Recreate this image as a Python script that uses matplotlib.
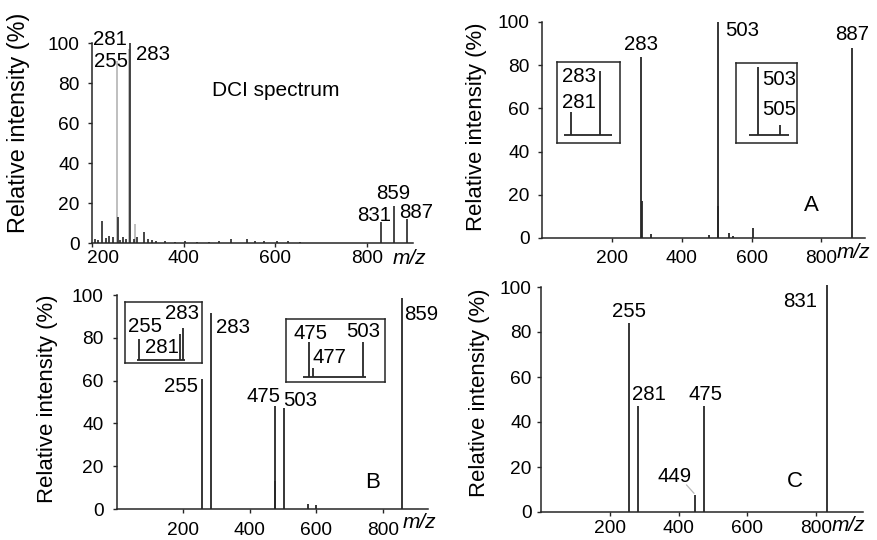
import matplotlib
matplotlib.use("Agg")
import matplotlib.pyplot as plt
from matplotlib.transforms import ScaledTranslation

plt.rcParams["font.family"] = ["Liberation Sans", "DejaVu Sans"]

# ---------------- data ----------------
# DCI spectrum
dci_black_mz = [206, 214, 222, 230, 237, 246, 256, 262, 267, 275, 283, 291, 298,
                313, 322, 330, 339, 359, 380, 402, 430, 455, 478, 504, 537, 555,
                576, 604, 628, 654, 831, 859, 887]
dci_black_int = [2, 1.5, 10.8, 2.5, 3.5, 2.8, 13, 1.5, 2.8, 2, 100, 2, 3,
                 5.3, 2, 1.5, 1.2, 0.8, 0.6, 1, 0.5, 0.6, 1, 1.8, 2.2, 0.8,
                 1, 1.2, 0.8, 0.6, 10.3, 18.5, 12]
dci_grey_mz = [255, 281, 293]
dci_grey_int = [91, 97, 9.5]

# product ion spectrum A
a_mz = [283, 285, 313, 477, 503, 505, 535, 548, 603, 887]
a_int = [84, 17, 1.8, 1.2, 100, 15, 2.3, 1, 4.6, 88]
# product ion spectrum B
b_mz = [255, 283, 475, 477, 503, 575, 600, 859]
b_int = [60.7, 91.5, 48, 13, 47, 2.5, 1.8, 98.5]
# product ion spectrum C
c_mz = [255, 281, 449, 475, 831]
c_int = [84, 47, 7.6, 47, 101]

# expanded views of isotope clusters
insA1_mz, insA1_int = [281, 283], [36, 100]
insA2_mz, insA2_int = [503, 505], [100, 15]
insB1_mz, insB1_int = [255, 281, 283], [66, 81, 100]
insB2_mz, insB2_int = [475, 477, 503], [100, 26, 100]

x_ticks = [200, 400, 600, 800]
y_ticks = [0, 20, 40, 60, 80, 100]

# ---------------- layout ----------------
W, H = 877, 540
fig = plt.figure(figsize=(W / 100, H / 100), dpi=100)
INK = "#262626"
GREY = "#b4b4b4"
LABEL_FS = 14.7
TICK_FS = 13.8


def rect(l, t, r, b):
    return [l / W, 1 - b / H, (r - l) / W, (b - t) / H]


def style_axes(ax, xlim, xpad, ypad, ylab_xy, ylab_fs, mz_xy):
    ax.set_xlim(*xlim)
    ax.set_ylim(0, 100)
    for s in ("top", "right"):
        ax.spines[s].set_visible(False)
    for s in ("left", "bottom"):
        ax.spines[s].set_color(INK)
        ax.spines[s].set_linewidth(1.1)
    ax.set_xticks(x_ticks)
    ax.set_yticks(y_ticks)
    ax.tick_params(axis="both", direction="out", length=3, width=1,
                   color=INK, labelsize=TICK_FS, labelcolor="black")
    ax.tick_params(axis="x", pad=xpad)
    ax.tick_params(axis="y", pad=ypad)
    ax.set_ylabel("Relative intensity (%)", fontsize=ylab_fs)
    ax.yaxis.set_label_coords(*ylab_xy)
    ax.text(mz_xy[0], mz_xy[1], "m/z", style="italic", fontsize=15,
            transform=ax.transAxes, ha="left", va="center")


def peaks(ax, mz, inten, color=INK, lw=1.3):
    ax.vlines(mz, 0, inten, colors=color, linewidth=lw, clip_on=False)


def label_peaks(ax, mz, inten, layout, fs=LABEL_FS):
    lookup = dict(zip(mz, inten))
    for m, (dx, dy, ha) in layout.items():
        ax.annotate(str(m), xy=(m, lookup[m]), xytext=(dx, dy),
                    textcoords="offset pixels", ha=ha, va="baseline",
                    fontsize=fs, annotation_clip=False)


def inset(box, mz, inten, xlim, base, ylim, text_pos):
    ia = fig.add_axes(rect(*box))
    ia.set_xlim(*xlim)
    ia.set_ylim(*ylim)
    ia.set_xticks([])
    ia.set_yticks([])
    for s in ia.spines.values():
        s.set_color(INK)
        s.set_linewidth(1.1)
    ia.hlines(0, base[0], base[1], colors=INK, linewidth=1.3)
    ia.vlines(mz, 0, inten, colors=INK, linewidth=1.3)
    for m, (fx, fy) in text_pos.items():
        ia.text(fx, fy, str(m), transform=ia.transAxes, ha="left",
                va="baseline", fontsize=LABEL_FS)
    return ia


# ---------------- DCI spectrum ----------------
ax1 = fig.add_axes(rect(92, 43, 413, 243))
style_axes(ax1, (200, 900), 2, 5.8, (-0.193, 0.6), 16.8, (0.938, -0.075))
peaks(ax1, dci_grey_mz, dci_grey_int, color=GREY, lw=1.2)
peaks(ax1, dci_black_mz, dci_black_int, lw=1.2)
label_peaks(ax1, dci_grey_mz, dci_grey_int,
            {281: (-2, 4, "right"), 255: (11, -6, "right")})
label_peaks(ax1, dci_black_mz, dci_black_int,
            {283: (6, -17, "left"), 831: (10, 1, "right"),
             859: (-1.5, 7, "center"), 887: (-8, 1, "left")})
ax1.text(0.374, 0.735, "DCI spectrum", transform=ax1.transAxes,
         fontsize=15, ha="left", va="baseline")
first = ax1.get_xticklabels()[0]
first.set_transform(first.get_transform()
                    + ScaledTranslation(0.11, 0, fig.dpi_scale_trans))

# ---------------- A ----------------
axA = fig.add_axes(rect(542, 22, 865, 238))
style_axes(axA, (0, 925), 5.6, 5.8, (-0.17, 0.514), 15.9, (0.913, -0.069))
peaks(axA, a_mz, a_int)
label_peaks(axA, a_mz, a_int,
            {283: (0, 6.6, "center"), 503: (7, -14, "left"),
             887: (0, 8, "center")})
axA.text(0.811, 0.125, "A", transform=axA.transAxes, fontsize=16,
         ha="left", va="baseline")
inset((557, 62, 620, 143), insA1_mz, insA1_int, (280.03, 284.38),
      (280.52, 283.83), (-12.5, 114), {283: (0.079, 0.753), 281: (0.079, 0.432)})
inset((736, 63, 797, 143), insA2_mz, insA2_int, (501.0, 506.55),
      (502.18, 505.82), (-11.8, 106), {503: (0.426, 0.725), 505: (0.426, 0.35)})

# ---------------- B ----------------
axB = fig.add_axes(rect(117, 295, 428, 509))
style_axes(axB, (0, 936), 6.3, 6.5, (-0.19, 0.514), 15.9, (0.92, -0.065))
peaks(axB, b_mz, b_int)
label_peaks(axB, b_mz, b_int,
            {255: (-4, -13, "right"), 283: (5, -20, "left"),
             475: (6, 4, "right"), 503: (-1, 2, "left"),
             859: (2, -22, "left")})
axB.text(0.797, 0.098, "B", transform=axB.transAxes, fontsize=16,
         ha="left", va="baseline")
inset((125, 302, 202, 363), insB1_mz, insB1_int, (246.1, 295.1),
      (253.7, 284.3), (-9.4, 181),
      {255: (0.039, 0.508), 283: (0.519, 0.721), 281: (0.26, 0.164)})
inset((286, 319, 385, 382), insB2_mz, insB2_int, (463.1, 514.4),
      (471.9, 504.5), (-14.3, 166),
      {475: (0.071, 0.683), 503: (0.606, 0.714), 477: (0.263, 0.302)})

# ---------------- C ----------------
axC = fig.add_axes(rect(541, 287, 863, 512))
style_axes(axC, (0, 936), 2.7, 3.6, (-0.158, 0.529), 15.9, (0.904, -0.058))
peaks(axC, c_mz, c_int)
label_peaks(axC, c_mz, c_int,
            {255: (0, 6, "center"), 281: (11, 6, "center"),
             475: (1, 6, "center"), 831: (-10, -22, "right"),
             449: (-21, 13, "center")})
c_lookup = dict(zip(c_mz, c_int))
axC.annotate("", xy=(449, c_lookup[449]), xytext=(-9, 10),
             textcoords="offset pixels",
             arrowprops=dict(arrowstyle="-", color="#b8b8b8", lw=0.9,
                             shrinkA=0, shrinkB=1.5))
axC.text(0.764, 0.111, "C", transform=axC.transAxes, fontsize=16,
         ha="left", va="baseline")

fig.savefig("out.png", dpi=100, facecolor="white")
